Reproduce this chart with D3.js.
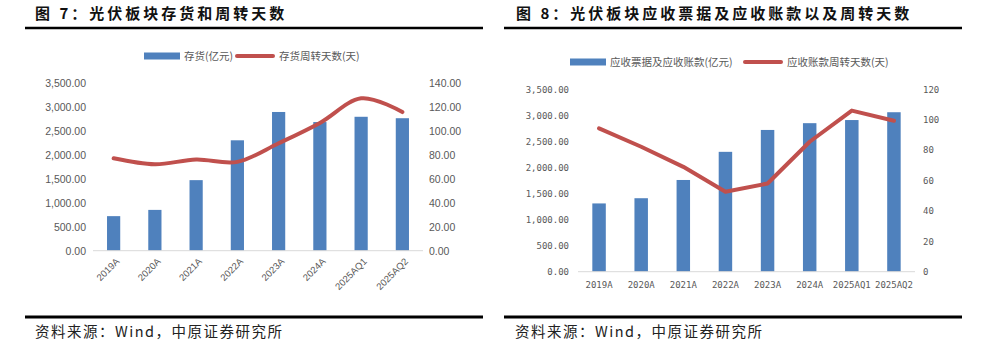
<!DOCTYPE html>
<html>
<head>
<meta charset="utf-8">
<script src="https://cdn.jsdelivr.net/npm/d3@7/dist/d3.min.js"></script>
<style>
  html, body { margin: 0; padding: 0; background: #fff; }
  svg { display: block; }
</style>
</head>
<body>
<svg id="chart" width="995" height="349"></svg>
<script>
// Shared categories (fiscal periods)
const periods = ["2019A", "2020A", "2021A", "2022A", "2023A", "2024A", "2025AQ1", "2025AQ2"];

// Figure 7: inventory (亿元) and inventory turnover days
const inventory = [720, 850, 1470, 2300, 2890, 2680, 2790, 2760];
const inventoryDays = [77, 72, 76, 74, 89.5, 106.5, 127, 115.5];
const invLeftTicks = [0, 500, 1000, 1500, 2000, 2500, 3000, 3500];
const invRightTicks = [0, 20, 40, 60, 80, 100, 120, 140];

// Figure 8: notes & accounts receivable (亿元) and receivable turnover days
const receivables = [1310, 1410, 1760, 2300, 2720, 2850, 2910, 3060];
const receivableDays = [94.3, 82.2, 69, 52.6, 58, 85.5, 106, 99.3];
const recLeftTicks = [0, 500, 1000, 1500, 2000, 2500, 3000, 3500];
const recRightTicks = [0, 20, 40, 60, 80, 100, 120];

const BAR = "#4F81BD";
const LINE = "#C0504D";
const GREY = "#595959";

const svg = d3.select("#chart");

// ---------- frame: titles, rules, source notes ----------
function frame(x0, x1, titleX, title, sourceX) {
  svg.append("text")
    .attr("x", titleX).attr("y", 19)
    .attr("font-family", "'Noto Sans CJK SC', sans-serif")
    .attr("font-weight", 700).attr("font-size", 15)
    .attr("letter-spacing", 3)
    .attr("fill", "#111")
    .text(title);
  svg.append("line").attr("x1", x0).attr("x2", x1).attr("y1", 28).attr("y2", 28)
    .attr("stroke", "#000").attr("stroke-width", 2.5);
  svg.append("line").attr("x1", x0).attr("x2", x1).attr("y1", 317).attr("y2", 317)
    .attr("stroke", "#000").attr("stroke-width", 3);
  svg.append("text")
    .attr("x", sourceX).attr("y", 337)
    .attr("font-family", "'Noto Sans CJK SC', sans-serif")
    .attr("font-size", 14.5).attr("letter-spacing", 1.5)
    .attr("fill", "#222")
    .text("资料来源：Wind，中原证券研究所");
}

frame(25, 483, 35, "图 7：光伏板块存货和周转天数", 35);
frame(504, 962, 516, "图 8：光伏板块应收票据及应收账款以及周转天数", 515);

// ---------- generic combo chart ----------
function comboChart(o) {
  const g = svg.append("g");
  const x = d3.scaleBand().domain(periods).range([o.x0, o.x1]).paddingInner(0.68).paddingOuter(0.34);
  const yL = d3.scaleLinear().domain([0, 3500]).range([o.yBottom, o.yTop]);
  const yR = d3.scaleLinear().domain([0, o.rightMax]).range([o.yBottom, o.yTop]);

  // left axis
  const axL = g.append("g").attr("transform", `translate(${o.x0},0)`)
    .call(d3.axisLeft(yL).tickValues(o.leftTicks).tickSize(0).tickPadding(o.padL).tickFormat(d3.format(",.2f")));
  axL.select(".domain").remove();
  axL.selectAll("text").attr("font-family", o.numFont).attr("font-size", o.numSize).attr("fill", GREY);

  // right axis
  const axR = g.append("g").attr("transform", `translate(${o.x1},0)`)
    .call(d3.axisRight(yR).tickValues(o.rightTicks).tickSize(0).tickPadding(o.padR).tickFormat(o.rightFmt));
  axR.select(".domain").remove();
  axR.selectAll("text").attr("font-family", o.numFont).attr("font-size", o.numSize).attr("fill", GREY);

  // bars
  g.selectAll("rect.bar").data(o.bars).enter().append("rect")
    .attr("class", "bar")
    .attr("x", (d, i) => x(periods[i]))
    .attr("width", x.bandwidth())
    .attr("y", d => yL(d))
    .attr("height", d => yL(0) - yL(d))
    .attr("fill", BAR);

  // category axis baseline
  g.append("line").attr("x1", o.x0).attr("x2", o.x1).attr("y1", o.yBottom).attr("y2", o.yBottom)
    .attr("stroke", "#D9D9D9").attr("stroke-width", 1);

  // category labels
  const cx = p => x(p) + x.bandwidth() / 2;
  if (o.rotate) {
    g.selectAll("text.cat").data(periods).enter().append("text")
      .attr("class", "cat")
      .attr("transform", p => `translate(${cx(p) + 4},${o.yBottom + 9}) rotate(-45)`)
      .attr("text-anchor", "end").attr("dy", "0.35em")
      .attr("font-family", o.catFont).attr("font-size", o.catSize).attr("fill", GREY)
      .text(p => p);
  } else {
    g.selectAll("text.cat").data(periods).enter().append("text")
      .attr("class", "cat")
      .attr("x", p => cx(p)).attr("y", o.yBottom + 13)
      .attr("text-anchor", "middle").attr("dy", "0.35em")
      .attr("font-family", o.catFont).attr("font-size", o.catSize).attr("fill", GREY)
      .text(p => p);
  }

  // turnover-days line
  const line = d3.line()
    .x((d, i) => cx(periods[i]))
    .y(d => yR(d))
    .curve(o.smooth ? d3.curveCardinal.tension(0) : d3.curveLinear);
  g.append("path").datum(o.days)
    .attr("d", line)
    .attr("fill", "none").attr("stroke", LINE).attr("stroke-width", 4)
    .attr("stroke-linejoin", "round").attr("stroke-linecap", "round");

  // legend
  const lg = g.append("g");
  lg.append("rect").attr("x", o.leg.barX).attr("y", o.leg.y - 3.5).attr("width", 36).attr("height", 7).attr("fill", BAR);
  lg.append("text").attr("x", o.leg.barX + 40).attr("y", o.leg.y).attr("dy", "0.35em")
    .attr("font-family", o.legFont).attr("font-size", 10.5).attr("fill", GREY).text(o.leg.barText);
  lg.append("line").attr("x1", o.leg.lineX).attr("x2", o.leg.lineX + 36)
    .attr("y1", o.leg.y).attr("y2", o.leg.y)
    .attr("stroke", LINE).attr("stroke-width", 4).attr("stroke-linecap", "round");
  lg.append("text").attr("x", o.leg.lineX + 42).attr("y", o.leg.y).attr("dy", "0.35em")
    .attr("font-family", o.legFont).attr("font-size", 10.5).attr("fill", GREY).text(o.leg.lineText);
}

comboChart({
  x0: 93, x1: 423, yTop: 82.7, yBottom: 250.7,
  bars: inventory, days: inventoryDays,
  leftTicks: invLeftTicks, rightTicks: invRightTicks, rightMax: 140,
  rightFmt: d3.format(".2f"),
  padL: 7, padR: 6,
  numFont: "'Liberation Sans', Arial, sans-serif", numSize: 10.5,
  catFont: "'Liberation Sans', Arial, sans-serif", catSize: 9.5,
  legFont: "'Noto Sans CJK SC', sans-serif",
  rotate: true, smooth: true,
  leg: { y: 56, barX: 144, lineX: 237, barText: "存货(亿元)", lineText: "存货周转天数(天)" }
});

comboChart({
  x0: 578, x1: 915, yTop: 89.3, yBottom: 271.7,
  bars: receivables, days: receivableDays,
  leftTicks: recLeftTicks, rightTicks: recRightTicks, rightMax: 120,
  rightFmt: d3.format("d"),
  padL: 9, padR: 8,
  numFont: "'DejaVu Sans Mono', 'Liberation Mono', monospace", numSize: 9,
  catFont: "'DejaVu Sans Mono', 'Liberation Mono', monospace", catSize: 9,
  legFont: "'Noto Sans CJK SC', sans-serif",
  rotate: false, smooth: false,
  leg: { y: 62, barX: 570, lineX: 745, barText: "应收票据及应收账款(亿元)", lineText: "应收账款周转天数(天)" }
});
</script>
</body>
</html>
